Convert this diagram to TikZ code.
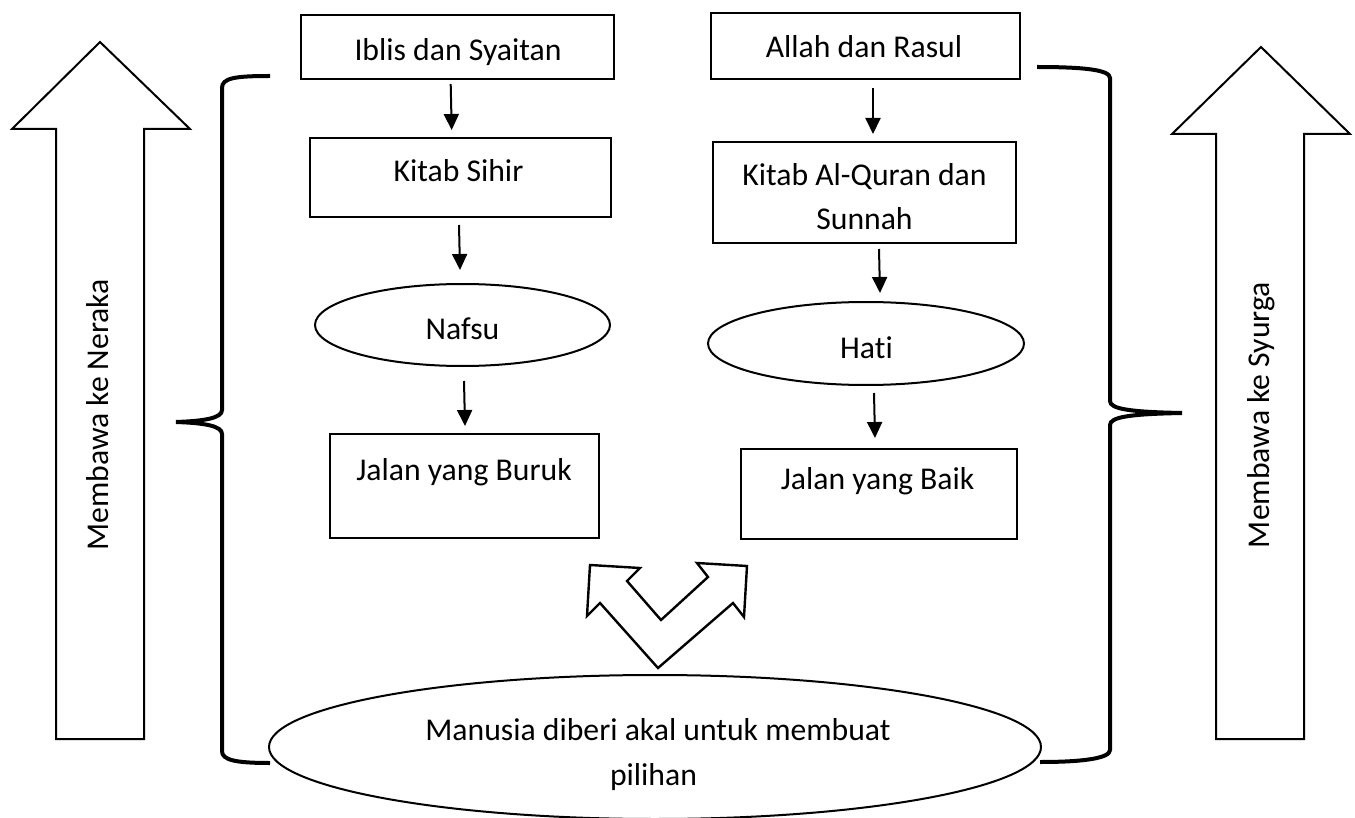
\documentclass[tikz,border=0pt]{standalone}
\usepackage{fontspec}
\setmainfont{Carlito}[RawFeature={-liga;-clig;-dlig}]
\usetikzlibrary{shapes.geometric,arrows.meta}
\begin{document}
\begin{tikzpicture}[x=1pt,y=-1pt,
  box/.style={draw,line width=2.2pt,rectangle,inner sep=0pt},
  oval/.style={draw,line width=2pt,ellipse,inner sep=0pt},
  txt/.style={anchor=base,inner sep=0pt,font=\fontsize{31.7}{44}\selectfont},
  flow/.style={line width=2pt,-{Triangle[width=15pt,length=16pt]}},
  bracestyle/.style={line width=4pt},
  block/.style={draw,line width=2pt,line join=miter,fill=white}]
\useasboundingbox (0,0) rectangle (1355,818);

% left column
\node[box,minimum width=313pt,minimum height=64pt] (iblis) at (457.35,47) {};
\node[txt] (iblisT) at (458,61) {Iblis dan Syaitan};
\node[box,minimum width=301pt,minimum height=79pt] (sihir) at (460.5,177.2) {};
\node[txt] (sihirT) at (458.5,182) {Kitab Sihir};
\node[oval,minimum width=295pt,minimum height=82pt] (nafsu) at (462.5,325) {};
\node[txt] (nafsuT) at (462.5,340) {Nafsu};
\node[box,minimum width=269pt,minimum height=104pt] (buruk) at (464.5,486) {};
\node[txt] (burukT) at (464,480.5) {Jalan yang Buruk};

% right column
\node[box,minimum width=309pt,minimum height=66pt] (allah) at (865.5,46) {};
\node[txt] (allahT) at (864,58) {Allah dan Rasul};
\node[box,minimum width=303pt,minimum height=101pt] (quran) at (864.5,192.5) {};
\node[txt] (quranT1) at (864.5,186) {Kitab Al-Quran dan};
\node[txt] (quranT2) at (864.5,230) {Sunnah};
\node[oval,minimum width=316pt,minimum height=83pt] (hati) at (866,343.5) {};
\node[txt] (hatiT) at (866.5,359) {Hat\kern0pt i};
\node[box,minimum width=276pt,minimum height=90pt] (baik) at (879,494) {};
\node[txt] (baikT) at (877.5,489) {Jalan yang Baik};

% bottom ellipse
\node[oval,minimum width=772pt,minimum height=144pt] (manusia) at (655,747) {};
\node[txt] (manusiaT1) at (658,740.5) {Manusia diberi akal untuk membuat};
\node[txt] (manusiaT2) at (653.5,785) {pilihan};

% flow arrows
\coordinate (a1s) at (450.7,84);  \coordinate (a1e) at (451.7,130);
\coordinate (a2s) at (459,225);   \coordinate (a2e) at (460,270);
\coordinate (a3s) at (464,381);   \coordinate (a3e) at (465,426);
\coordinate (b1s) at (873,88);    \coordinate (b1e) at (873,134);
\coordinate (b2s) at (879,249);   \coordinate (b2e) at (880,293);
\coordinate (b3s) at (874,393);   \coordinate (b3e) at (875,438);
\draw[flow] (a1s) -- (a1e);
\draw[flow] (a2s) -- (a2e);
\draw[flow] (a3s) -- (a3e);
\draw[flow] (b1s) -- (b1e);
\draw[flow] (b2s) -- (b2e);
\draw[flow] (b3s) -- (b3e);

% braces
\draw[bracestyle] (270,76) .. controls (235,76) and (222,78) .. (222,88)
  -- (222,410) .. controls (222,418) and (205,421) .. (176,422)
  .. controls (205,423) and (222,426) .. (222,434)
  -- (222,751) .. controls (222,760) and (235,763) .. (270,763);
\draw[bracestyle] (1037,67) .. controls (1085,67) and (1110,70) .. (1110,78)
  -- (1110,401) .. controls (1110,409) and (1130,412) .. (1182,413)
  .. controls (1130,414) and (1110,417) .. (1110,425)
  -- (1110,750) .. controls (1110,758) and (1085,762) .. (1040,762);

% block arrows
\draw[block] (100,42) -- (190,129) -- (144,129) -- (144,739) -- (56,739) -- (56,129) -- (12,129) -- cycle;
\node[txt,rotate=90] (neraka) at (108,415) {Membawa ke Neraka};
\draw[block] (1261,47) -- (1350,134) -- (1304,134) -- (1304,739) -- (1216,739) -- (1216,134) -- (1172,134) -- cycle;
\node[txt,rotate=90] (syurga) at (1269,415) {Membawa ke Syurga};

% V double arrow
\draw[line width=2.4pt,line join=miter,fill=white] (658,668) -- (600,603) -- (587,616) -- (590,565) -- (640,568)
  -- (627,581) -- (661,620) -- (708,577) -- (697,563) -- (747,566) -- (744,617) -- (733,603) -- cycle;
\end{tikzpicture}
\end{document}
